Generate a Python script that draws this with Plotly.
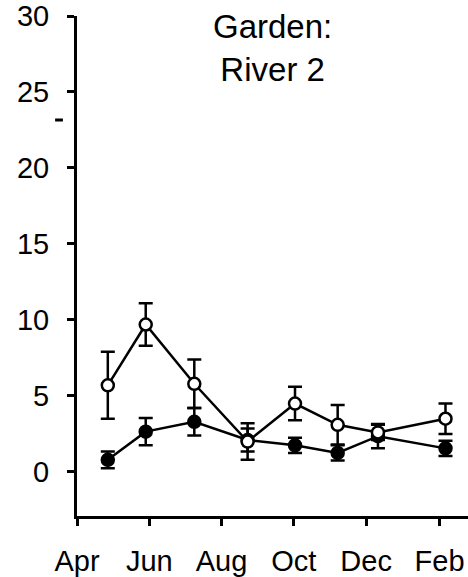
import plotly.graph_objects as go

# Sampling dates (one per sampling trip)
sample_dates = ["2005-04-27", "2005-05-29", "2005-07-09", "2005-08-23",
                "2005-10-02", "2005-11-07", "2005-12-11", "2006-02-06"]

# Open-circle series: means and error half-widths
open_vals = [5.7, 9.7, 5.8, 2.0, 4.5, 3.1, 2.6, 3.5]
open_err = [2.2, 1.4, 1.6, 1.2, 1.1, 1.3, 0.5, 1.0]

# Filled-circle series: means and error half-widths
filled_vals = [0.8, 2.65, 3.3, 2.1, 1.75, 1.25, 2.35, 1.55]
filled_err = [0.55, 0.9, 0.9, 0.75, 0.5, 0.5, 0.8, 0.5]

# Axis ticks
x_tick_dates = ["2005-04-01", "2005-06-01", "2005-08-01",
                "2005-10-01", "2005-12-01", "2006-02-01"]
x_tick_labels = ["Apr", "Jun", "Aug", "Oct", "Dec", "Feb"]
y_ticks = [0, 5, 10, 15, 20, 25, 30]

FONT = "Liberation Sans, Arial, sans-serif"

fig = go.Figure()

fig.add_trace(go.Scatter(
    x=sample_dates, y=filled_vals,
    mode="lines+markers",
    line=dict(color="black", width=2.5),
    marker=dict(size=12, color="black", line=dict(color="black", width=2.5)),
    error_y=dict(type="data", array=filled_err, visible=True,
                 color="black", thickness=2.5, width=7),
    cliponaxis=False,
    showlegend=False,
))

fig.add_trace(go.Scatter(
    x=sample_dates, y=open_vals,
    mode="lines+markers",
    line=dict(color="black", width=2.5),
    marker=dict(size=12, color="white", line=dict(color="black", width=2.5)),
    error_y=dict(type="data", array=open_err, visible=True,
                 color="black", thickness=2.5, width=7),
    cliponaxis=False,
    showlegend=False,
))

fig.update_layout(
    width=468, height=577,
    margin=dict(l=77, r=0, t=16, b=61),
    paper_bgcolor="white", plot_bgcolor="white",
    font=dict(family=FONT, size=29, color="black"),
    xaxis=dict(
        range=["2005-04-01", "2006-02-25"],
        tickvals=x_tick_dates, ticktext=x_tick_labels,
        showline=True, linecolor="black", linewidth=3,
        ticks="outside", ticklen=7, tickwidth=3, tickcolor="black",
        ticklabelstandoff=10,
        showgrid=False, zeroline=False, automargin=False,
        tickfont=dict(family=FONT, size=29, color="black"),
    ),
    yaxis=dict(
        range=[-2.9, 30],
        tickvals=y_ticks,
        showline=True, linecolor="black", linewidth=3,
        ticks="outside", ticklen=7, tickwidth=3, tickcolor="black",
        ticklabelstandoff=12,
        showgrid=False, zeroline=False, automargin=False,
        tickfont=dict(family=FONT, size=29, color="black"),
    ),
    annotations=[dict(
        text="Garden:<br>River 2",
        xref="paper", yref="paper", x=0.5, y=1.02,
        xanchor="center", yanchor="top",
        showarrow=False,
        font=dict(family=FONT, size=33, color="black"),
    )],
    shapes=[dict(
        type="line", xref="paper", yref="paper",
        x0=-0.056, x1=-0.036, y0=0.792, y1=0.792,
        line=dict(color="black", width=3),
    )],
)

fig.write_html("out.html")
